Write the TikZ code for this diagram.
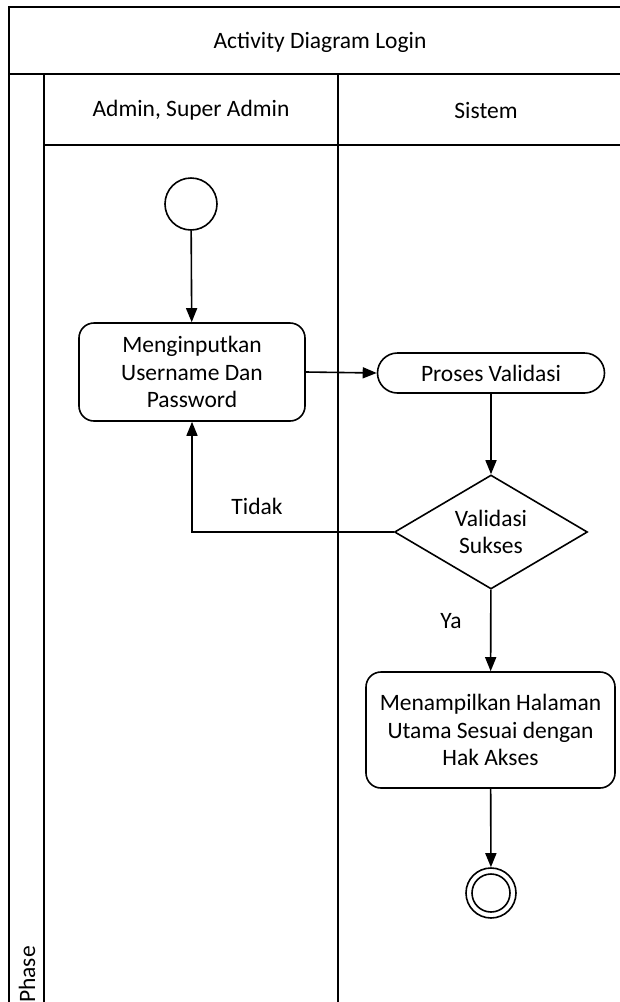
\documentclass[tikz,border=0pt]{standalone}
\usepackage{fontspec}
\setmainfont{Carlito}
\usetikzlibrary{shapes.geometric,arrows.meta}
\begin{document}
\begin{tikzpicture}[x=1pt,y=-1pt,
  frame/.style={line width=1.8pt},
  conn/.style={line width=1.6pt,-{Triangle[length=14pt,width=11pt]}},
  txt/.style={font=\fontsize{23.5}{27.7}\selectfont,align=center,inner sep=0pt},
  actbox/.style={draw,line width=1.6pt,rounded corners=15pt,txt},
  pill/.style={draw,line width=1.6pt,rounded corners=20pt,txt},
  decision/.style={draw,line width=1.6pt,diamond,aspect=1.69,txt},
  startnode/.style={draw,line width=1.6pt,circle,minimum size=52pt,inner sep=0pt},
  endnode/.style={draw,line width=1.6pt,circle,minimum size=50pt,inner sep=0pt}]
\useasboundingbox (0,0) rectangle (620,1002);
\clip (0,0) rectangle (620,1002);
\fill[white] (0,0) rectangle (620,1002);

% swimlane frame
\draw[frame] (630,7) -- (9,7) -- (9,1010);
\draw[frame] (9,74) -- (630,74);
\draw[frame] (44,74) -- (44,1010);
\draw[frame] (44,145) -- (630,145);
\draw[frame] (338,74) -- (338,1010);

% headers
\node[txt] (title) at (320,42) {Activity Diagram Login};
\node[txt] (laneA) at (191,110) {Admin, Super Admin};
\node[txt] (laneB) at (486,110) {Sistem};
\node[txt,rotate=90,anchor=west] (phase) at (27,1003) {Phase};

% activity nodes
\node[startnode] (start) at (191,204) {};
\node[actbox,minimum width=226pt,minimum height=98pt] (input) at (192,372)
  {Menginputkan\\Username Dan\\Password};
\node[pill,minimum width=227pt,minimum height=40pt] (proses) at (491,373)
  {Proses Validasi};
\node[decision,minimum width=193pt,minimum height=114pt] (dec) at (491,532)
  {Validasi\\Sukses};
\node[actbox,minimum width=249pt,minimum height=116pt] (hasil) at (490.5,730)
  {Menampilkan Halaman\\Utama Sesuai dengan\\Hak Akses};
\node[endnode] (end) at (491,893) {};
\draw[line width=1.6pt] (end.center) circle (19pt);

% flow
\draw[conn] (start) -- (input);
\draw[conn] (input.east) -- (proses.west);
\draw[conn] (proses) -- (dec);
\draw[conn] (dec.west) -| (input.south);
\draw[conn] (dec) -- (hasil);
\draw[conn] (hasil) -- (end);

% guards
\node[txt] (tidak) at (257,506) {Tidak};
\node[txt] (ya) at (451,621) {Ya};
\end{tikzpicture}
\end{document}
